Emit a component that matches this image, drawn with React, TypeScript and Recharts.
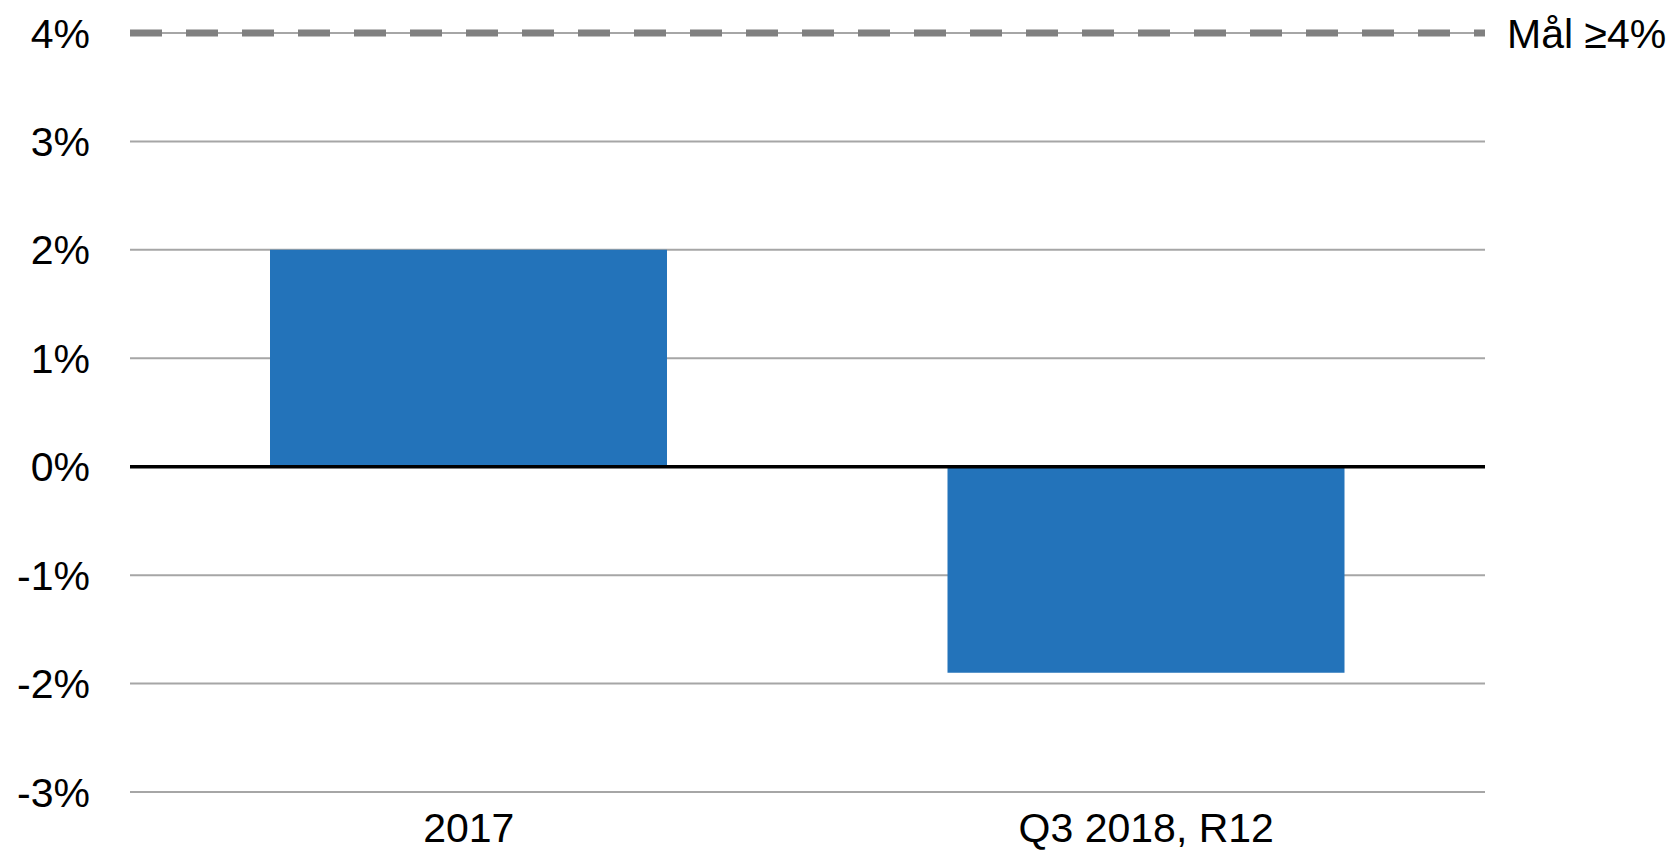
import React from "react";
import { BarChart, Bar, XAxis, YAxis, CartesianGrid, ReferenceLine } from "recharts";

const categories = ["2017", "Q3 2018, R12"];
const values = [2.0, -1.9];
const yTicks = [-3, -2, -1, 0, 1, 2, 3, 4];
const target = 4;
const targetLabel = "Mål ≥4%";

const data = categories.map((c, i) => ({ name: c, value: values[i] }));

export default function App() {
  return (
    <div style={{ position: "absolute", left: 0, top: 0, fontFamily: "'Liberation Sans', Arial, sans-serif", background: "#fff" }}>
      <BarChart
        width={1675}
        height={852}
        data={data}
        margin={{ top: 33, right: 190, bottom: 0, left: 0 }}
      >
        <CartesianGrid vertical={false} stroke="#a6a6a6" strokeWidth={2} />
        <XAxis
          dataKey="name"
          axisLine={false}
          tickLine={false}
          tickSize={0}
          tickMargin={21}
          height={60}
          tick={{ fill: "#000", fontSize: 41 }}
        />
        <YAxis
          domain={[-3, 4]}
          ticks={yTicks}
          interval={0}
          axisLine={false}
          tickLine={false}
          tickSize={0}
          tickMargin={40}
          width={130}
          tickFormatter={(v: number) => `${v}%`}
          tick={{ fill: "#000", fontSize: 41 }}
        />
        <Bar dataKey="value" fill="#2373BA" barSize={397} isAnimationActive={false} />
        <ReferenceLine y={0} stroke="#000" strokeWidth={3.5} />
        <ReferenceLine
          y={target}
          stroke="#808080"
          strokeWidth={7}
          strokeDasharray="32 24"
          label={{ value: targetLabel, position: "right", fill: "#000", fontSize: 41, offset: 22 }}
        />
      </BarChart>
    </div>
  );
}
